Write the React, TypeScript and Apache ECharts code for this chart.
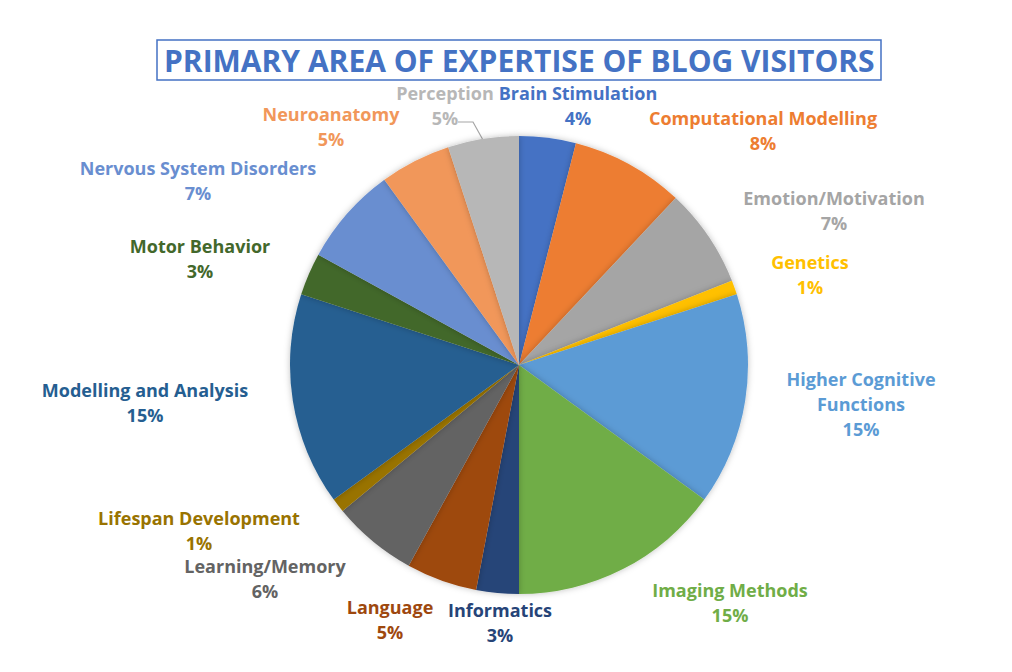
import React, { useEffect, useRef } from "react";
import * as echarts from "echarts";

const categories = [
  "Brain Stimulation",
  "Computational Modelling",
  "Emotion/Motivation",
  "Genetics",
  "Higher Cognitive Functions",
  "Imaging Methods",
  "Informatics",
  "Language",
  "Learning/Memory",
  "Lifespan Development",
  "Modelling and Analysis",
  "Motor Behavior",
  "Nervous System Disorders",
  "Neuroanatomy",
  "Perception",
];
const values = [4, 8, 7, 1, 15, 15, 3, 5, 6, 1, 15, 3, 7, 5, 5];
const colors = [
  "#4472C4", "#ED7D31", "#A5A5A5", "#FFC000", "#5B9BD5", "#70AD47", "#264478",
  "#9E480E", "#636363", "#997300", "#255E91", "#43682B", "#698ED0", "#F1975A", "#B7B7B7",
];
const labelNames: Record<string, string> = {
  "Higher Cognitive Functions": "Higher Cognitive\nFunctions",
};
// label centres (layout)
const labelPos: [number, number][] = [
  [578, 105], [763, 130], [834, 210], [810, 274], [861, 404], [730, 602], [500, 622],
  [390, 619], [265, 578], [199, 530], [145, 402], [200, 258], [198, 180], [331, 126], [445, 105],
];

export default function App() {
  const ref = useRef<HTMLDivElement>(null);
  useEffect(() => {
    if (!ref.current) return;
    const chart = echarts.init(ref.current, null, { renderer: "svg" });
    chart.setOption({
      animation: false,
      backgroundColor: "#ffffff",
      title: {
        text: "PRIMARY AREA OF EXPERTISE OF BLOG VISITORS",
        left: 157,
        top: 40,
        padding: [4, 7, 4, 7],
        borderColor: "#4472C4",
        borderWidth: 1.5,
        textStyle: {
          fontFamily: "Open Sans",
          fontWeight: "bold",
          fontSize: 30,
          lineHeight: 32,
          color: "#4472C4",
        },
      },
      series: [
        {
          type: "pie",
          center: [519, 365],
          radius: 229,
          startAngle: 90,
          clockwise: true,
          avoidLabelOverlap: false,
          itemStyle: {
            shadowBlur: 6,
            shadowColor: "rgba(0,0,0,0.25)",
          },
          label: {
            show: true,
            position: "outside",
            formatter: (p: any) => `${labelNames[p.name] ?? p.name}\n${Math.round(p.percent)}%`,
            fontFamily: "Open Sans",
            fontWeight: "bold",
            fontSize: 18,
            lineHeight: 25,
            align: "center",
          },
          labelLine: { show: false },
          labelLayout: (params: any) => {
            const i = params.dataIndex;
            const res: any = {
              x: labelPos[i][0],
              y: labelPos[i][1],
              align: "center",
              verticalAlign: "middle",
            };
            if (categories[i] === "Perception") {
              res.labelLinePoints = [[483, 140], [473, 122], [458, 122]];
            }
            return res;
          },
          data: categories.map((name, i) => ({
            name,
            value: values[i],
            itemStyle: { color: colors[i] },
            label: { color: colors[i] },
            labelLine:
              name === "Perception"
                ? { show: true, lineStyle: { color: "#A5A5A5", width: 1.2 } }
                : { show: false },
          })),
        },
      ],
    });
    return () => chart.dispose();
  }, []);
  return (
    <div
      ref={ref}
      style={{ position: "fixed", left: 0, top: 0, width: 1012, height: 672 }}
    />
  );
}
